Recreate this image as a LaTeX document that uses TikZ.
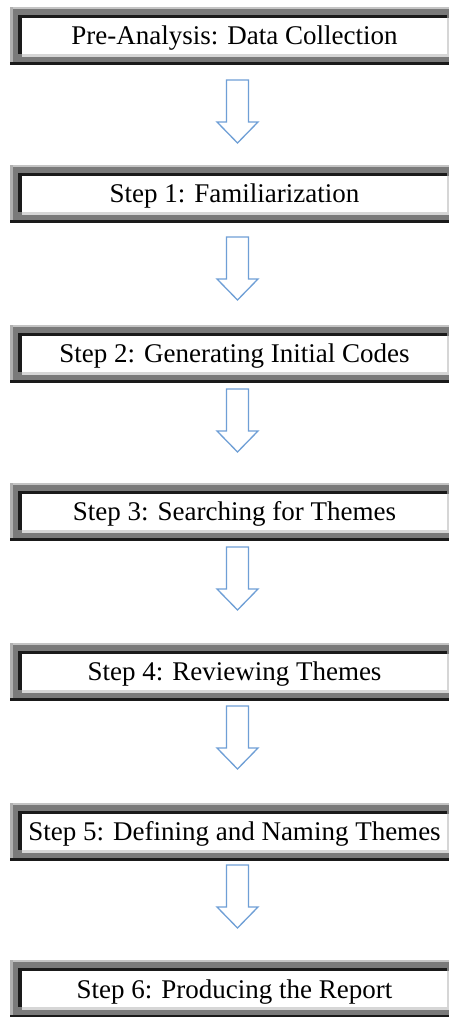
\documentclass[tikz,border=0pt]{standalone}
\usepackage{fontspec}
\setmainfont{Liberation Serif}
\usetikzlibrary{calc}
\definecolor{framegray}{HTML}{7A7A7A}
\definecolor{framelight}{HTML}{C4C4C4}
\definecolor{frameside}{HTML}{B0B0B0}
\definecolor{framepale}{HTML}{D6D6D6}
\definecolor{framedark}{HTML}{1A1A1A}
\definecolor{arrowblue}{HTML}{6F9FD6}
\tikzset{
  stepbox/.style={fill=white, minimum width=425pt, minimum height=36pt, inner sep=0pt,
    text height=24pt, text depth=6pt, font=\fontsize{27}{30}\selectfont},
  barrow/.style={draw=arrowblue, fill=white, line width=1.3pt, line join=miter},
}
\begin{document}
\begin{tikzpicture}[x=1pt,y=1pt]
\useasboundingbox (0,0) rectangle (449,1017);
\fill[white] (0,0) rectangle (449,1017);
\foreach \n/\yc/\t in {0/981/{Pre-Analysis: Data Collection},
                      1/823/{Step 1: Familiarization},
                      2/663/{Step 2: Generating Initial Codes},
                      3/505/{Step 3: Searching for Themes},
                      4/345/{Step 4: Reviewing Themes},
                      5/185/{Step 5: Defining and Naming Themes},
                      6/28/{Step 6: Producing the Report}} {
  \fill[framegray] (10,\yc+29) rectangle (452,\yc-29);
  \fill[framelight] (10,\yc+29) rectangle (452,\yc+27);
  \fill[frameside] (10,\yc+29) rectangle (13,\yc-26);
  \fill[framedark] (18,\yc+21) rectangle (447,\yc+18);
  \fill[framedark] (18,\yc+21) rectangle (22,\yc-18);
  \fill[framepale] (22,\yc-18) rectangle (449,\yc-21);
  \fill[framepale] (447,\yc+18) rectangle (449,\yc-21);
  \fill[framedark] (10,\yc-26) rectangle (452,\yc-29);
  \node[stepbox] (b\n) at (234.5,\yc) {\t};
}
\foreach \m/\ya in {1/937, 2/780, 3/628, 4/470, 5/311, 6/152} {
  \coordinate (a\m) at (237.5,\ya);
  \draw[barrow] ($(a\m)+(-11,0)$) -- ++(0,-42) -- ++(-9.5,0) -- ++(20.5,-21)
     -- ++(20.5,21) -- ++(-9.5,0) -- ++(0,42) -- cycle;
}
\end{tikzpicture}
\end{document}
